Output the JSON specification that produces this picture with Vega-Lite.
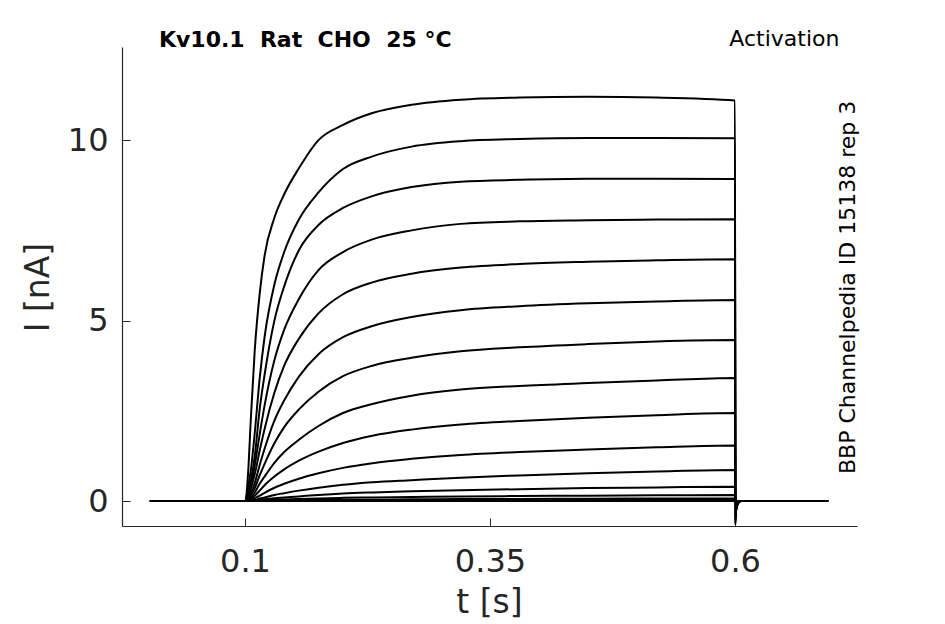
{
  "$schema": "https://vega.github.io/schema/vega-lite/v6.json",
  "width": 735,
  "height": 479,
  "autosize": {"type": "none"},
  "padding": {"left": 122, "top": 47, "right": 88, "bottom": 98},
  "background": "white",
  "config": {"view": {"stroke": null}, "font": "DejaVu Sans"},
  "data": {
    "values": [
      {"k":1,"t":0.003,"i":0},{"k":1,"t":0.1,"i":0},{"k":1,"t":0.103,"i":0.7},{"k":1,"t":0.106,"i":2.3},{"k":1,"t":0.11,"i":4.2},{"k":1,"t":0.115,"i":5.75},{"k":1,"t":0.12,"i":6.8},{"k":1,"t":0.13,"i":7.85},{"k":1,"t":0.14,"i":8.5},{"k":1,"t":0.155,"i":9.22},{"k":1,"t":0.175,"i":10.0},{"k":1,"t":0.2,"i":10.42},{"k":1,"t":0.23,"i":10.75},{"k":1,"t":0.27,"i":10.98},{"k":1,"t":0.32,"i":11.12},{"k":1,"t":0.38,"i":11.18},{"k":1,"t":0.45,"i":11.2},{"k":1,"t":0.52,"i":11.18},{"k":1,"t":0.6,"i":11.1},{"k":1,"t":0.6003,"i":-0.66},{"k":1,"t":0.601,"i":-0.3},{"k":1,"t":0.603,"i":-0.08},{"k":1,"t":0.606,"i":0},{"k":1,"t":0.695,"i":0},
      {"k":2,"t":0.003,"i":0},{"k":2,"t":0.1,"i":0},{"k":2,"t":0.103,"i":0.35},{"k":2,"t":0.106,"i":0.85},{"k":2,"t":0.11,"i":1.9},{"k":2,"t":0.115,"i":3.4},{"k":2,"t":0.12,"i":4.55},{"k":2,"t":0.13,"i":6.0},{"k":2,"t":0.14,"i":6.9},{"k":2,"t":0.155,"i":7.8},{"k":2,"t":0.175,"i":8.55},{"k":2,"t":0.2,"i":9.2},{"k":2,"t":0.23,"i":9.55},{"k":2,"t":0.27,"i":9.82},{"k":2,"t":0.32,"i":9.97},{"k":2,"t":0.38,"i":10.03},{"k":2,"t":0.45,"i":10.06},{"k":2,"t":0.52,"i":10.06},{"k":2,"t":0.6,"i":10.05},{"k":2,"t":0.6003,"i":-0.6},{"k":2,"t":0.601,"i":-0.27},{"k":2,"t":0.603,"i":-0.07},{"k":2,"t":0.606,"i":0},{"k":2,"t":0.695,"i":0},
      {"k":3,"t":0.003,"i":0},{"k":3,"t":0.1,"i":0},{"k":3,"t":0.103,"i":0.2},{"k":3,"t":0.106,"i":0.55},{"k":3,"t":0.11,"i":1.25},{"k":3,"t":0.115,"i":2.55},{"k":3,"t":0.12,"i":3.5},{"k":3,"t":0.13,"i":5.0},{"k":3,"t":0.14,"i":5.95},{"k":3,"t":0.155,"i":6.95},{"k":3,"t":0.175,"i":7.65},{"k":3,"t":0.2,"i":8.12},{"k":3,"t":0.23,"i":8.45},{"k":3,"t":0.27,"i":8.7},{"k":3,"t":0.32,"i":8.85},{"k":3,"t":0.38,"i":8.9},{"k":3,"t":0.45,"i":8.93},{"k":3,"t":0.52,"i":8.93},{"k":3,"t":0.6,"i":8.92},{"k":3,"t":0.6003,"i":-0.54},{"k":3,"t":0.601,"i":-0.24},{"k":3,"t":0.603,"i":-0.06},{"k":3,"t":0.606,"i":0},{"k":3,"t":0.695,"i":0},
      {"k":4,"t":0.003,"i":0},{"k":4,"t":0.1,"i":0},{"k":4,"t":0.103,"i":0.15},{"k":4,"t":0.106,"i":0.45},{"k":4,"t":0.11,"i":1.0},{"k":4,"t":0.115,"i":1.85},{"k":4,"t":0.12,"i":2.65},{"k":4,"t":0.13,"i":3.9},{"k":4,"t":0.14,"i":4.75},{"k":4,"t":0.155,"i":5.6},{"k":4,"t":0.175,"i":6.4},{"k":4,"t":0.2,"i":6.9},{"k":4,"t":0.23,"i":7.25},{"k":4,"t":0.27,"i":7.5},{"k":4,"t":0.32,"i":7.68},{"k":4,"t":0.38,"i":7.75},{"k":4,"t":0.45,"i":7.78},{"k":4,"t":0.52,"i":7.8},{"k":4,"t":0.6,"i":7.81},{"k":4,"t":0.6003,"i":-0.48},{"k":4,"t":0.601,"i":-0.22},{"k":4,"t":0.603,"i":-0.06},{"k":4,"t":0.606,"i":0},{"k":4,"t":0.695,"i":0},
      {"k":5,"t":0.003,"i":0},{"k":5,"t":0.1,"i":0},{"k":5,"t":0.103,"i":0.1},{"k":5,"t":0.106,"i":0.35},{"k":5,"t":0.11,"i":0.75},{"k":5,"t":0.115,"i":1.4},{"k":5,"t":0.12,"i":2.0},{"k":5,"t":0.13,"i":3.0},{"k":5,"t":0.14,"i":3.75},{"k":5,"t":0.155,"i":4.5},{"k":5,"t":0.175,"i":5.2},{"k":5,"t":0.2,"i":5.73},{"k":5,"t":0.23,"i":6.06},{"k":5,"t":0.27,"i":6.3},{"k":5,"t":0.32,"i":6.47},{"k":5,"t":0.38,"i":6.57},{"k":5,"t":0.45,"i":6.63},{"k":5,"t":0.52,"i":6.67},{"k":5,"t":0.6,"i":6.7},{"k":5,"t":0.6003,"i":-0.42},{"k":5,"t":0.601,"i":-0.19},{"k":5,"t":0.603,"i":-0.05},{"k":5,"t":0.606,"i":0},{"k":5,"t":0.695,"i":0},
      {"k":6,"t":0.003,"i":0},{"k":6,"t":0.1,"i":0},{"k":6,"t":0.103,"i":0.07},{"k":6,"t":0.106,"i":0.22},{"k":6,"t":0.11,"i":0.5},{"k":6,"t":0.115,"i":1.0},{"k":6,"t":0.12,"i":1.45},{"k":6,"t":0.13,"i":2.23},{"k":6,"t":0.14,"i":2.79},{"k":6,"t":0.155,"i":3.45},{"k":6,"t":0.175,"i":4.07},{"k":6,"t":0.2,"i":4.54},{"k":6,"t":0.23,"i":4.85},{"k":6,"t":0.27,"i":5.1},{"k":6,"t":0.32,"i":5.29},{"k":6,"t":0.38,"i":5.4},{"k":6,"t":0.45,"i":5.48},{"k":6,"t":0.52,"i":5.53},{"k":6,"t":0.6,"i":5.57},{"k":6,"t":0.6003,"i":-0.36},{"k":6,"t":0.601,"i":-0.16},{"k":6,"t":0.603,"i":-0.04},{"k":6,"t":0.606,"i":0},{"k":6,"t":0.695,"i":0},
      {"k":7,"t":0.003,"i":0},{"k":7,"t":0.1,"i":0},{"k":7,"t":0.103,"i":0.045},{"k":7,"t":0.106,"i":0.16},{"k":7,"t":0.11,"i":0.36},{"k":7,"t":0.115,"i":0.71},{"k":7,"t":0.12,"i":1.03},{"k":7,"t":0.13,"i":1.6},{"k":7,"t":0.14,"i":2.05},{"k":7,"t":0.155,"i":2.54},{"k":7,"t":0.175,"i":3.03},{"k":7,"t":0.2,"i":3.46},{"k":7,"t":0.23,"i":3.75},{"k":7,"t":0.27,"i":3.97},{"k":7,"t":0.32,"i":4.15},{"k":7,"t":0.38,"i":4.26},{"k":7,"t":0.45,"i":4.35},{"k":7,"t":0.52,"i":4.42},{"k":7,"t":0.6,"i":4.46},{"k":7,"t":0.6003,"i":-0.3},{"k":7,"t":0.601,"i":-0.13},{"k":7,"t":0.603,"i":-0.04},{"k":7,"t":0.606,"i":0},{"k":7,"t":0.695,"i":0},
      {"k":8,"t":0.003,"i":0},{"k":8,"t":0.1,"i":0},{"k":8,"t":0.103,"i":0.03},{"k":8,"t":0.106,"i":0.1},{"k":8,"t":0.11,"i":0.24},{"k":8,"t":0.115,"i":0.48},{"k":8,"t":0.12,"i":0.68},{"k":8,"t":0.13,"i":1.06},{"k":8,"t":0.14,"i":1.36},{"k":8,"t":0.155,"i":1.7},{"k":8,"t":0.175,"i":2.08},{"k":8,"t":0.2,"i":2.44},{"k":8,"t":0.23,"i":2.69},{"k":8,"t":0.27,"i":2.92},{"k":8,"t":0.32,"i":3.09},{"k":8,"t":0.38,"i":3.19},{"k":8,"t":0.45,"i":3.27},{"k":8,"t":0.52,"i":3.34},{"k":8,"t":0.6,"i":3.41},{"k":8,"t":0.6003,"i":-0.24},{"k":8,"t":0.601,"i":-0.11},{"k":8,"t":0.603,"i":-0.03},{"k":8,"t":0.606,"i":0},{"k":8,"t":0.695,"i":0},
      {"k":9,"t":0.003,"i":0},{"k":9,"t":0.1,"i":0},{"k":9,"t":0.103,"i":0.02},{"k":9,"t":0.106,"i":0.06},{"k":9,"t":0.11,"i":0.15},{"k":9,"t":0.115,"i":0.29},{"k":9,"t":0.12,"i":0.44},{"k":9,"t":0.13,"i":0.68},{"k":9,"t":0.14,"i":0.88},{"k":9,"t":0.155,"i":1.12},{"k":9,"t":0.175,"i":1.37},{"k":9,"t":0.2,"i":1.61},{"k":9,"t":0.23,"i":1.81},{"k":9,"t":0.27,"i":1.98},{"k":9,"t":0.32,"i":2.12},{"k":9,"t":0.38,"i":2.22},{"k":9,"t":0.45,"i":2.31},{"k":9,"t":0.52,"i":2.38},{"k":9,"t":0.6,"i":2.44},{"k":9,"t":0.6003,"i":-0.18},{"k":9,"t":0.601,"i":-0.08},{"k":9,"t":0.603,"i":-0.02},{"k":9,"t":0.606,"i":0},{"k":9,"t":0.695,"i":0},
      {"k":10,"t":0.003,"i":0},{"k":10,"t":0.1,"i":0},{"k":10,"t":0.103,"i":0.01},{"k":10,"t":0.106,"i":0.03},{"k":10,"t":0.11,"i":0.08},{"k":10,"t":0.115,"i":0.15},{"k":10,"t":0.12,"i":0.23},{"k":10,"t":0.13,"i":0.37},{"k":10,"t":0.14,"i":0.48},{"k":10,"t":0.155,"i":0.62},{"k":10,"t":0.175,"i":0.77},{"k":10,"t":0.2,"i":0.92},{"k":10,"t":0.23,"i":1.05},{"k":10,"t":0.27,"i":1.17},{"k":10,"t":0.32,"i":1.28},{"k":10,"t":0.38,"i":1.36},{"k":10,"t":0.45,"i":1.43},{"k":10,"t":0.52,"i":1.49},{"k":10,"t":0.6,"i":1.54},{"k":10,"t":0.6003,"i":-0.13},{"k":10,"t":0.601,"i":-0.06},{"k":10,"t":0.603,"i":-0.02},{"k":10,"t":0.606,"i":0},{"k":10,"t":0.695,"i":0},
      {"k":11,"t":0.003,"i":0},{"k":11,"t":0.1,"i":0},{"k":11,"t":0.103,"i":0},{"k":11,"t":0.106,"i":0.01},{"k":11,"t":0.11,"i":0.03},{"k":11,"t":0.115,"i":0.07},{"k":11,"t":0.12,"i":0.1},{"k":11,"t":0.13,"i":0.17},{"k":11,"t":0.14,"i":0.22},{"k":11,"t":0.155,"i":0.29},{"k":11,"t":0.175,"i":0.37},{"k":11,"t":0.2,"i":0.45},{"k":11,"t":0.23,"i":0.52},{"k":11,"t":0.27,"i":0.58},{"k":11,"t":0.32,"i":0.65},{"k":11,"t":0.38,"i":0.71},{"k":11,"t":0.45,"i":0.77},{"k":11,"t":0.52,"i":0.82},{"k":11,"t":0.6,"i":0.86},{"k":11,"t":0.6003,"i":-0.08},{"k":11,"t":0.601,"i":-0.04},{"k":11,"t":0.603,"i":-0.01},{"k":11,"t":0.606,"i":0},{"k":11,"t":0.695,"i":0},
      {"k":12,"t":0.003,"i":0},{"k":12,"t":0.1,"i":0},{"k":12,"t":0.103,"i":0},{"k":12,"t":0.106,"i":0.005},{"k":12,"t":0.11,"i":0.015},{"k":12,"t":0.115,"i":0.03},{"k":12,"t":0.12,"i":0.05},{"k":12,"t":0.13,"i":0.08},{"k":12,"t":0.14,"i":0.1},{"k":12,"t":0.155,"i":0.13},{"k":12,"t":0.175,"i":0.17},{"k":12,"t":0.2,"i":0.21},{"k":12,"t":0.23,"i":0.24},{"k":12,"t":0.27,"i":0.27},{"k":12,"t":0.32,"i":0.3},{"k":12,"t":0.38,"i":0.33},{"k":12,"t":0.45,"i":0.36},{"k":12,"t":0.52,"i":0.38},{"k":12,"t":0.6,"i":0.4},{"k":12,"t":0.6003,"i":-0.05},{"k":12,"t":0.601,"i":-0.02},{"k":12,"t":0.603,"i":0},{"k":12,"t":0.606,"i":0},{"k":12,"t":0.695,"i":0},
      {"k":13,"t":0.003,"i":0},{"k":13,"t":0.1,"i":0},{"k":13,"t":0.11,"i":0.01},{"k":13,"t":0.115,"i":0.015},{"k":13,"t":0.12,"i":0.02},{"k":13,"t":0.13,"i":0.035},{"k":13,"t":0.14,"i":0.045},{"k":13,"t":0.155,"i":0.06},{"k":13,"t":0.175,"i":0.075},{"k":13,"t":0.2,"i":0.09},{"k":13,"t":0.23,"i":0.1},{"k":13,"t":0.27,"i":0.115},{"k":13,"t":0.32,"i":0.13},{"k":13,"t":0.38,"i":0.14},{"k":13,"t":0.45,"i":0.15},{"k":13,"t":0.52,"i":0.16},{"k":13,"t":0.6,"i":0.17},{"k":13,"t":0.6003,"i":-0.03},{"k":13,"t":0.601,"i":-0.01},{"k":13,"t":0.603,"i":0},{"k":13,"t":0.695,"i":0},
      {"k":14,"t":0.003,"i":0},{"k":14,"t":0.1,"i":0},{"k":14,"t":0.115,"i":0.005},{"k":14,"t":0.12,"i":0.01},{"k":14,"t":0.13,"i":0.015},{"k":14,"t":0.14,"i":0.02},{"k":14,"t":0.155,"i":0.025},{"k":14,"t":0.175,"i":0.03},{"k":14,"t":0.2,"i":0.035},{"k":14,"t":0.23,"i":0.04},{"k":14,"t":0.27,"i":0.05},{"k":14,"t":0.32,"i":0.055},{"k":14,"t":0.38,"i":0.06},{"k":14,"t":0.45,"i":0.065},{"k":14,"t":0.52,"i":0.07},{"k":14,"t":0.6,"i":0.07},{"k":14,"t":0.6003,"i":-0.02},{"k":14,"t":0.603,"i":0},{"k":14,"t":0.695,"i":0},
      {"k":15,"t":0.003,"i":0},{"k":15,"t":0.1,"i":0},{"k":15,"t":0.2,"i":0.015},{"k":15,"t":0.4,"i":0.025},{"k":15,"t":0.6,"i":0.03},{"k":15,"t":0.6003,"i":-0.02},{"k":15,"t":0.603,"i":0},{"k":15,"t":0.695,"i":0},
      {"k":16,"t":0.003,"i":0},{"k":16,"t":0.1,"i":0},{"k":16,"t":0.6,"i":0},{"k":16,"t":0.6003,"i":-0.02},{"k":16,"t":0.603,"i":0},{"k":16,"t":0.695,"i":0}
    ]
  },
  "layer": [
    {
      "mark": {"type": "line", "color": "black", "strokeWidth": 2, "interpolate": "monotone"},
      "encoding": {
        "x": {
          "field": "t",
          "type": "quantitative",
          "scale": {"domain": [-0.0255, 0.7245], "nice": false, "zero": false},
          "axis": {
            "title": "t [s]",
            "values": [0.1, 0.35, 0.6],
            "labelExpr": "'' + datum.value",
            "grid": false,
            "tickSize": -8,
            "labelPadding": 28,
            "labelFontSize": 32,
            "labelFont": "DejaVu Sans",
            "labelColor": "#262626",
            "labelFlush": false,
            "domainColor": "#262626",
            "domainWidth": 1.2,
            "tickColor": "#262626",
            "titleFont": "DejaVu Sans",
            "titleFontSize": 33,
            "titleFontWeight": "normal",
            "titleColor": "#262626",
            "titleBaseline": "alphabetic",
            "titleX": 367,
            "titleY": 86
          }
        },
        "y": {
          "field": "i",
          "type": "quantitative",
          "scale": {"domain": [-0.69, 12.58], "nice": false, "zero": false},
          "axis": {
            "title": "I [nA]",
            "values": [0, 5, 10],
            "grid": false,
            "tickSize": -8,
            "labelPadding": 22,
            "labelFontSize": 32,
            "labelFont": "DejaVu Sans",
            "labelColor": "#262626",
            "labelFlush": false,
            "domainColor": "#262626",
            "domainWidth": 1.2,
            "tickColor": "#262626",
            "titleFont": "DejaVu Sans",
            "titleFontSize": 33,
            "titleFontWeight": "normal",
            "titleColor": "#262626",
            "titleBaseline": "alphabetic",
            "titleX": -74,
            "titleY": 240
          }
        },
        "detail": {"field": "k", "type": "nominal"}
      }
    },
    {
      "data": {"values": [{}]},
      "mark": {"type": "text", "text": "Kv10.1\u00a0\u00a0Rat\u00a0\u00a0CHO\u00a0\u00a025\u00a0°C", "font": "DejaVu Sans", "fontWeight": "bold", "fontSize": 22, "align": "left", "baseline": "alphabetic", "color": "black"},
      "encoding": {"x": {"datum": 0.0122}, "y": {"datum": 12.57}}
    },
    {
      "data": {"values": [{}]},
      "mark": {"type": "text", "text": "Activation", "font": "DejaVu Sans", "fontSize": 22, "align": "right", "baseline": "alphabetic", "color": "black"},
      "encoding": {"x": {"datum": 0.7066}, "y": {"datum": 12.6}}
    },
    {
      "data": {"values": [{}]},
      "mark": {"type": "text", "text": "BBP Channelpedia ID 15138 rep 3", "font": "DejaVu Sans", "fontSize": 22, "angle": 270, "align": "center", "baseline": "alphabetic", "color": "black"},
      "encoding": {"x": {"datum": 0.7224}, "y": {"datum": 5.92}}
    }
  ]
}
